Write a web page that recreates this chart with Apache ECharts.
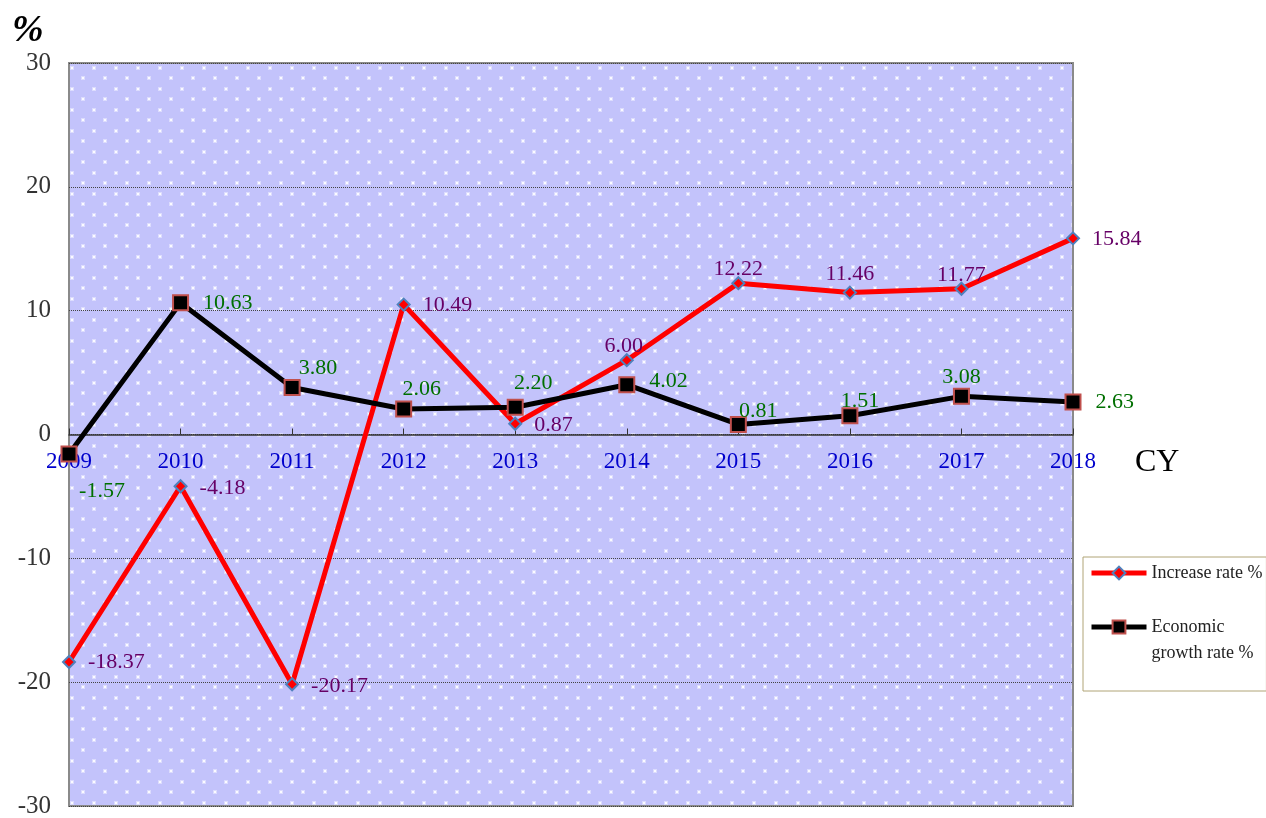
<!DOCTYPE html>
<html>
<head>
<meta charset="utf-8">
<script src="https://cdn.jsdelivr.net/npm/echarts@6/dist/echarts.min.js"></script>
<style>html,body{margin:0;padding:0;background:#fff}#c{width:1266px;height:818px}</style>
</head>
<body>
<div id="c"></div>
<script>
var years = ['2009','2010','2011','2012','2013','2014','2015','2016','2017','2018'];
var increaseRate = [-18.37, -4.18, -20.17, 10.49, 0.87, 6.00, 12.22, 11.46, 11.77, 15.84];
var growthRate = [-1.57, 10.63, 3.80, 2.06, 2.20, 4.02, 0.81, 1.51, 3.08, 2.63];
var yTicks = {min: -30, max: 30, interval: 10};

// label placement (position, offset) per point
var incPlace = [
  ['right',[4,0]],['right',[4,2]],['right',[4,2]],['right',[4,1]],['right',[4,1]],
  ['top',[-3,12]],['top',[0,12]],['top',[0,8]],['top',[0,12]],['right',[4,1]]
];
var grPlace = [
  ['inside',[33,37]],['right',[6,0]],['top',[26,8]],['top',[18,8]],['top',[18,3]],
  ['right',[6,-4]],['top',[20,14]],['top',[10,13]],['top',[0,8]],['right',[6,0]]
];

function mkPattern(){
  var cv = document.createElement('canvas');
  cv.width = 22; cv.height = 21;
  var g = cv.getContext('2d');
  g.fillStyle = '#c3c3fb';
  g.fillRect(0,0,22,21);
  function dot(x,y){
    g.fillStyle = 'rgba(240,240,255,0.55)';
    g.fillRect(x-1,y-1,4,4);
    g.fillStyle = '#fbfbff';
    g.fillRect(x,y,2,2);
  }
  dot(5,4);
  dot(16,14);
  return cv;
}

var FONT = '"Liberation Serif","Times New Roman",serif';

function buildData(vals, place, color){
  return vals.map(function(v,i){
    return {value: v, label: {position: place[i][0], offset: place[i][1], color: color}};
  });
}

var chart = echarts.init(document.getElementById('c'));
chart.setOption({
  animation: false,
  backgroundColor: '#fff',
  grid: {
    left: 69, right: 193, top: 63, bottom: 12,
    outerBoundsMode: 'none',
    containLabel: false,
    show: true,
    backgroundColor: {image: mkPattern(), repeat: 'repeat'},
    borderColor: '#8a8a8a', borderWidth: 2
  },
  xAxis: [{
    type: 'category', data: years, boundaryGap: false,
    axisLine: {onZero: true, lineStyle: {color: '#333', width: 1.5}},
    axisTick: {show: true, inside: true, length: 6, lineStyle: {color: '#333'}},
    axisLabel: {show: false},
    splitLine: {show: false}
  }, {
    type: 'category', data: years, boundaryGap: false,
    position: 'bottom', offset: -372,
    axisLine: {show: false}, axisTick: {show: false},
    axisLabel: {color: '#0000cc', fontFamily: FONT, fontSize: 23, margin: 16},
    splitLine: {show: false}
  }],
  yAxis: {
    type: 'value', min: yTicks.min, max: yTicks.max, interval: yTicks.interval,
    axisLine: {show: false},
    axisTick: {show: false},
    axisLabel: {color: '#333', fontFamily: FONT, fontSize: 25, margin: 18},
    splitLine: {show: true, lineStyle: {color: '#444', type: 'dotted', width: 1}}
  },
  legend: {
    orient: 'vertical', left: 1083, top: 557,
    padding: [3, 4, 25, 6],
    itemGap: 2, itemWidth: 55, itemHeight: 16,
    backgroundColor: '#fff',
    borderColor: '#b0a477', borderWidth: 1,
    lineStyle: {width: 5},
    textStyle: {fontFamily: FONT, fontSize: 18, color: '#222', lineHeight: 26},
    data: ['Increase rate %', 'Economic growth rate %'],
    formatter: function(name){
      return name === 'Economic growth rate %' ? '\nEconomic\ngrowth rate %' : name;
    }
  },
  graphic: [
    {type: 'text', left: 12, top: 12, style: {text: '%', font: 'italic bold 38px ' + FONT, fill: '#000'}},
    {type: 'text', left: 1135, top: 447, style: {text: 'CY', font: '32px ' + FONT, fill: '#000'}}
  ],
  series: [
    {
      name: 'Increase rate %', type: 'line',
      data: buildData(increaseRate, incPlace, '#660066'),
      lineStyle: {color: '#ff0000', width: 5},
      itemStyle: {color: '#ff0000', borderColor: '#4f81bd', borderWidth: 2},
      symbol: 'diamond', symbolSize: 12,
      label: {show: true, fontFamily: FONT, fontSize: 22, distance: 8,
        formatter: function(p){return p.value.toFixed(2);}},
      z: 3
    },
    {
      name: 'Economic growth rate %', type: 'line',
      data: buildData(growthRate, grPlace, '#006f00'),
      lineStyle: {color: '#000', width: 5},
      itemStyle: {color: '#000', borderColor: '#c0504d', borderWidth: 2},
      symbol: 'rect', symbolSize: 15,
      label: {show: true, fontFamily: FONT, fontSize: 22, distance: 8,
        formatter: function(p){return p.value.toFixed(2);}},
      z: 4
    }
  ]
});
</script>
</body>
</html>
